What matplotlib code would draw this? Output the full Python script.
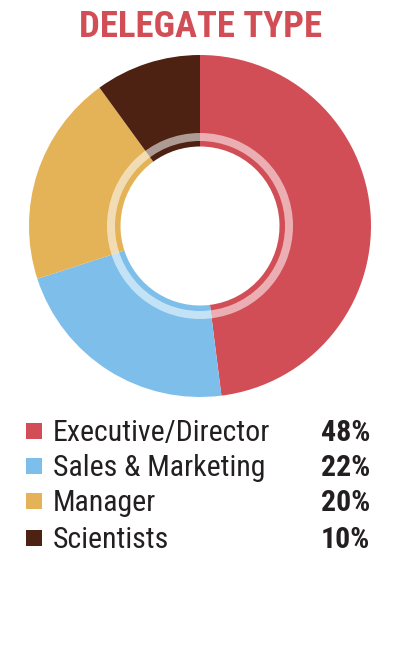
import matplotlib.pyplot as plt
from matplotlib.patches import Wedge, Rectangle

categories = ["Executive/Director", "Sales & Marketing", "Manager", "Scientists"]
shares = [48, 22, 20, 10]
colors = ["#D24E57", "#7DBFEA", "#E4B358", "#4E2212"]
title = "DELEGATE TYPE"

fonts = ["Roboto Condensed", "DejaVu Sans"]

W, H = 399, 670
fig = plt.figure(figsize=(W / 100, H / 100), dpi=100)
ax = fig.add_axes([0, 0, 1, 1])

# donut
cx, cy = 200, H - 226
ax.pie(shares, colors=colors, startangle=90, counterclock=False,
       center=(cx, cy), radius=171, frame=True,
       wedgeprops=dict(width=171 - 79.5, linewidth=0))
ax.set_xlim(0, W)
ax.set_ylim(0, H)
ax.set_aspect("equal")
ax.axis("off")
# pale ring inside the hole
ax.add_patch(Wedge((cx, cy), 93, 0, 360, width=8, facecolor="white",
                   alpha=0.55, linewidth=0))

ax.text(200.5, H - 27, title, ha="center", va="center", fontsize=26.5,
        fontweight="bold", color="#D24E57", family=fonts)

# legend
rows = [431, 466, 501, 538]
for y, lab, val, c in zip(rows, categories, shares, colors):
    ax.add_patch(Rectangle((26, H - y - 8), 16, 16, facecolor=c, linewidth=0))
    ax.text(53, H - y - 2, lab, ha="left", va="center", fontsize=21.5,
            color="#231F20", family=fonts)
    ax.text(370, H - y - 2, f"{val}%", ha="right", va="center", fontsize=21.5,
            fontweight="bold", color="#231F20", family=fonts)

fig.savefig("out.png", dpi=100, facecolor="white")
